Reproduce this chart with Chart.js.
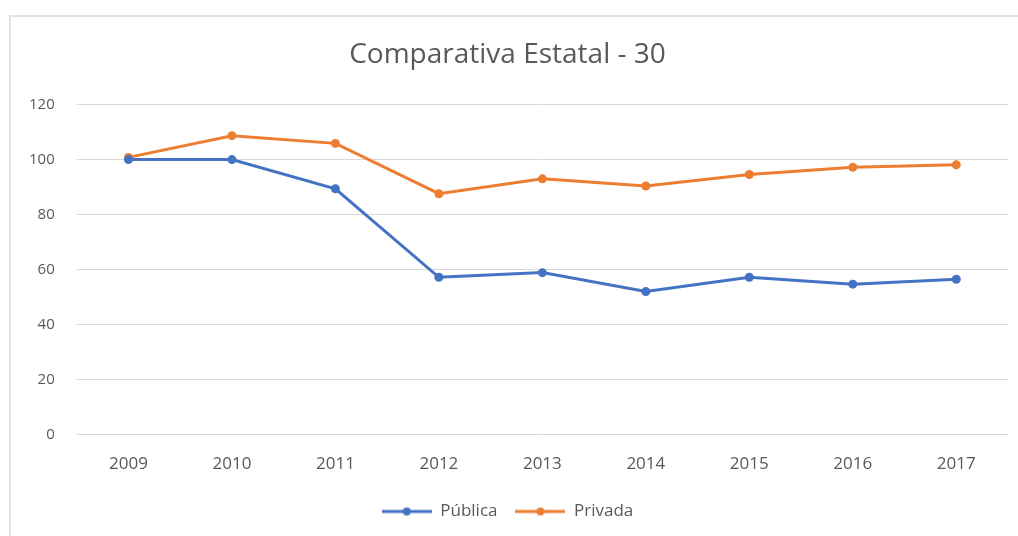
<!DOCTYPE html>
<html>
<head>
<meta charset="utf-8">
<script src="https://cdn.jsdelivr.net/npm/chart.js@4/dist/chart.umd.min.js"></script>
<style>
  html, body { margin: 0; padding: 0; background: #fff; overflow: hidden; }
  #marco { position: absolute; left: 9px; top: 15px; width: 1030px; height: 540px; border: 2px solid #e2e2e2; }
  #grafico { position: absolute; left: 0; top: 0; }
</style>
</head>
<body>
<div id="marco"></div>
<canvas id="grafico" width="1018" height="536"></canvas>
<script>
const anios = ['2009', '2010', '2011', '2012', '2013', '2014', '2015', '2016', '2017'];
const publica = [100, 100, 89.4, 57.2, 58.9, 52, 57.2, 54.7, 56.5];
const privada = [100.8, 108.7, 105.9, 87.6, 93, 90.4, 94.6, 97.2, 98.1];
const ticksY = [0, 20, 40, 60, 80, 100, 120];

const azul = '#4472c4';
const naranja = '#ed7d31';
const gris = '#595959';
const fuente = "'Open Sans', sans-serif";

// icono de leyenda: linea con punto al centro
function iconoLeyenda(color) {
  const c = document.createElement('canvas');
  c.width = 50;
  c.height = 12;
  const ctx = c.getContext('2d');
  ctx.strokeStyle = color;
  ctx.lineWidth = 3;
  ctx.beginPath();
  ctx.moveTo(0, 6);
  ctx.lineTo(50, 6);
  ctx.stroke();
  ctx.fillStyle = color;
  ctx.beginPath();
  ctx.arc(25, 6, 4, 0, Math.PI * 2);
  ctx.fill();
  return c;
}

const serie = (label, data, color) => ({
  label,
  data,
  borderColor: color,
  backgroundColor: color,
  borderWidth: 3,
  pointRadius: 4.5,
  pointBorderWidth: 0,
  pointStyle: 'circle',
  tension: 0
});

new Chart(document.querySelector('#grafico'), {
  type: 'line',
  data: {
    labels: anios,
    datasets: [serie('Pública', publica, azul), serie('Privada', privada, naranja)]
  },
  options: {
    responsive: false,
    animation: false,
    devicePixelRatio: 1,
    layout: { padding: { left: 7, right: 10, bottom: 6 } },
    plugins: {
      title: {
        display: true,
        text: 'Comparativa Estatal - 30',
        color: gris,
        font: { family: fuente, size: 28, weight: 'normal' },
        padding: { top: 38, bottom: 33 }
      },
      legend: {
        position: 'bottom',
        labels: {
          usePointStyle: true,
          pointStyleWidth: 50,
          boxHeight: 12,
          color: gris,
          font: { family: fuente, size: 17 },
          padding: 18,
          generateLabels: (chart) => {
            const items = Chart.defaults.plugins.legend.labels.generateLabels(chart);
            items.forEach((item, i) => {
              item.pointStyle = iconoLeyenda(chart.data.datasets[i].borderColor);
            });
            return items;
          }
        }
      },
      tooltip: { enabled: false }
    },
    scales: {
      x: {
        offset: true,
        grid: { display: false },
        border: { display: false },
        ticks: { color: gris, font: { family: fuente, size: 17 }, padding: 11 }
      },
      y: {
        min: 0,
        max: 120,
        afterBuildTicks: (eje) => { eje.ticks = ticksY.map((v) => ({ value: v })); },
        grid: { color: '#d9d9d9', lineWidth: 1, drawTicks: false },
        border: { display: false },
        ticks: { color: gris, font: { family: fuente, size: 15 }, padding: 22 }
      }
    }
  }
});
</script>
</body>
</html>
